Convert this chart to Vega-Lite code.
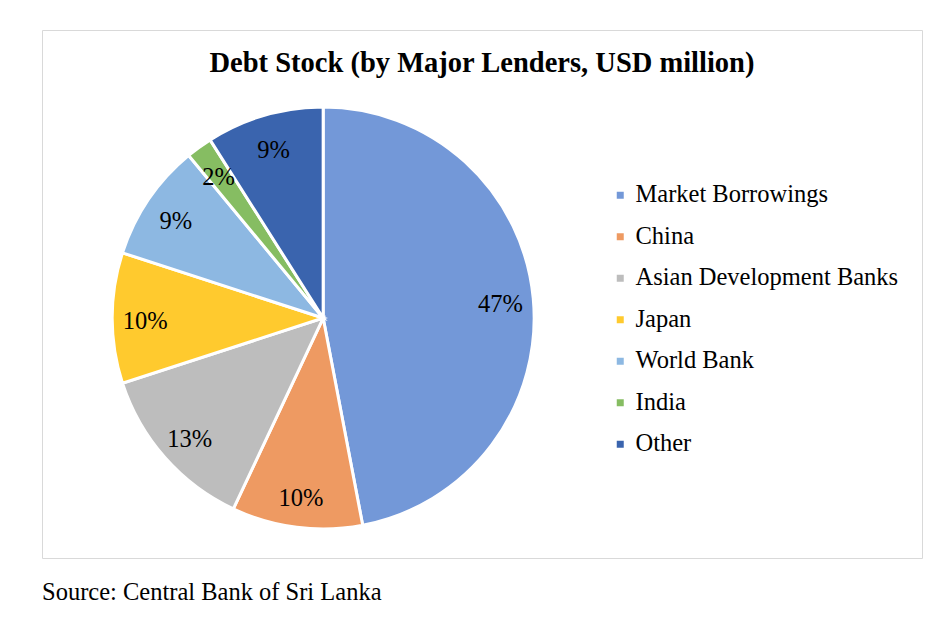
{
  "$schema": "https://vega.github.io/schema/vega-lite/v6.json",
  "autosize": "none",
  "width": 880,
  "height": 528,
  "padding": {"left": 42, "top": 30, "right": 20, "bottom": 66},
  "background": "white",
  "config": {
    "view": {"stroke": "#d9d9d9", "strokeWidth": 1},
    "font": "Liberation Serif"
  },
  "title": {
    "text": "Debt Stock (by Major Lenders, USD million)",
    "font": "Liberation Serif",
    "fontSize": 28.5,
    "fontWeight": "bold",
    "color": "#000000",
    "anchor": "middle",
    "baseline": "alphabetic",
    "offset": -70
  },
  "data": {
    "values": [
      {"lender": "Market Borrowings", "pct": 47, "rank": 1, "label": "47%"},
      {"lender": "China", "pct": 10, "rank": 2, "label": "10%"},
      {"lender": "Asian Development Banks", "pct": 13, "rank": 3, "label": "13%"},
      {"lender": "Japan", "pct": 10, "rank": 4, "label": "10%"},
      {"lender": "World Bank", "pct": 9, "rank": 5, "label": "9%"},
      {"lender": "India", "pct": 2, "rank": 6, "label": "2%"},
      {"lender": "Other", "pct": 9, "rank": 7, "label": "9%"}
    ]
  },
  "layer": [
    {
      "mark": {"type": "arc", "outerRadius": 211, "stroke": "white", "strokeWidth": 3},
      "encoding": {
        "x": {"datum": 0.3195, "type": "quantitative", "scale": {"domain": [0, 1]}, "axis": null},
        "y": {"datum": 0.4545, "type": "quantitative", "scale": {"domain": [0, 1]}, "axis": null},
        "theta": {"field": "pct", "type": "quantitative", "stack": true},
        "order": {"field": "rank", "type": "quantitative"},
        "color": {
          "field": "lender",
          "type": "nominal",
          "scale": {
            "domain": ["Market Borrowings", "China", "Asian Development Banks", "Japan", "World Bank", "India", "Other"],
            "range": ["#7398D8", "#EE9A62", "#BDBDBD", "#FFCA2E", "#8DB8E2", "#86BD62", "#3A64AE"]
          },
          "legend": {
            "title": null,
            "orient": "none",
            "legendX": 566,
            "legendY": 153,
            "symbolType": "square",
            "symbolSize": 49,
            "symbolStrokeWidth": 0,
            "labelFont": "Liberation Serif",
            "labelFontSize": 24.5,
            "labelColor": "#000000",
            "labelOffset": 3,
            "rowPadding": 16.5,
            "labelLimit": 400
          }
        }
      }
    },
    {
      "mark": {"type": "text", "radius": 178, "dy": 4, "font": "Liberation Serif", "fontSize": 24.5, "color": "#000000"},
      "encoding": {
        "x": {"datum": 0.3195, "type": "quantitative", "scale": {"domain": [0, 1]}, "axis": null},
        "y": {"datum": 0.4545, "type": "quantitative", "scale": {"domain": [0, 1]}, "axis": null},
        "theta": {"field": "pct", "type": "quantitative", "stack": true},
        "order": {"field": "rank", "type": "quantitative"},
        "text": {"field": "label", "type": "nominal"}
      }
    },
    {
      "data": {"values": [{"source": "Source: Central Bank of Sri Lanka"}]},
      "mark": {"type": "text", "align": "left", "baseline": "alphabetic", "font": "Liberation Serif", "fontSize": 24.5, "color": "#000000"},
      "encoding": {
        "x": {"datum": 0, "type": "quantitative", "scale": {"domain": [0, 1]}, "axis": null},
        "y": {"datum": -0.0795, "type": "quantitative", "scale": {"domain": [0, 1]}, "axis": null},
        "text": {"field": "source", "type": "nominal"}
      }
    }
  ]
}
